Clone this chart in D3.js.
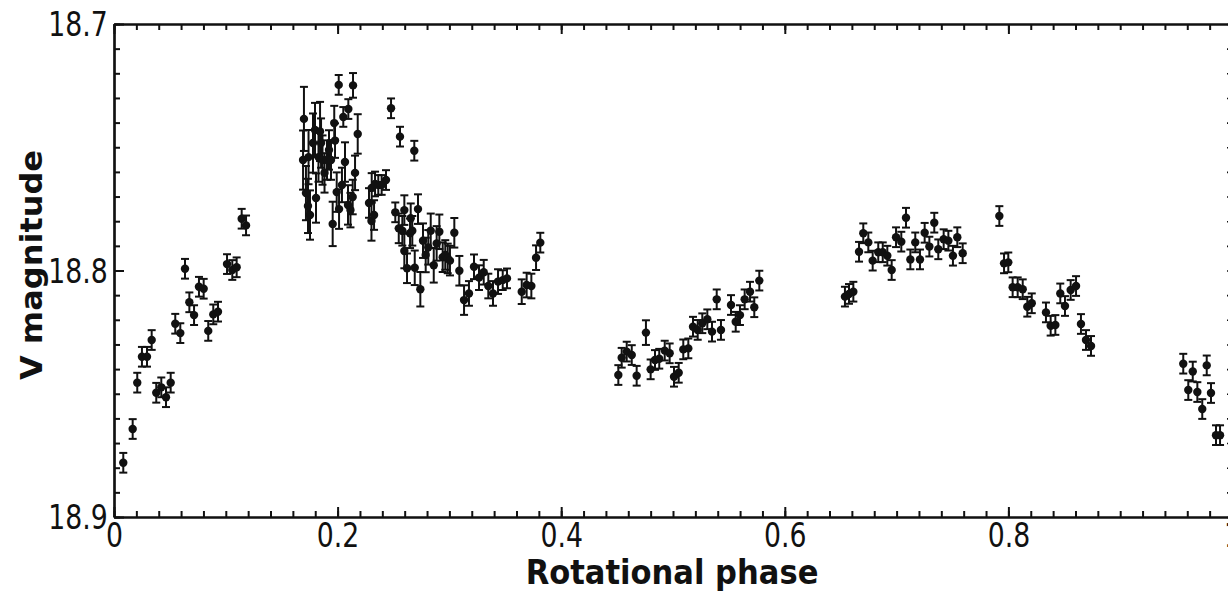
<!DOCTYPE html>
<html>
<head>
<meta charset="utf-8">
<script src="https://cdn.jsdelivr.net/npm/d3@7"></script>
<style>
  html, body { margin: 0; padding: 0; background: #fff; }
  svg { display: block; }
</style>
</head>
<body>
<svg id="chart" width="1228" height="591"></svg>
<script>
// ---- data ----
const phase = [
  0.0083,0.0167,0.0208,0.0250,0.0295,0.0337,0.0378,0.0423,0.0465,0.0507,0.0548,0.0593,0.0635,0.0674,0.0716,0.0760,0.0802,0.0843,0.0888,0.0930,0.1011,0.1058,0.1097,0.1142,0.1181,
  0.1699,0.1691,0.1717,0.1735,0.1753,0.1740,0.1780,0.1798,0.1807,0.1829,0.1843,0.1852,0.1865,0.1883,0.1905,0.1923,0.1941,0.1956,0.1970,0.1977,0.1992,0.2010,0.2013,0.2039,0.2051,0.2066,0.2096,0.2093,0.2115,0.2138,0.2135,0.2156,0.2180,
  0.2281,0.2303,0.2326,0.2305,0.2335,0.2364,0.2394,0.2433,0.2478,0.2558,0.2686,
  0.2516,0.2547,0.2579,0.2597,0.2597,0.2621,0.2648,0.2654,0.2668,0.2690,0.2719,0.2740,0.2764,0.2788,0.2811,0.2833,0.2860,0.2886,0.2910,0.2940,0.2963,0.2985,0.3005,0.3044,0.3089,0.3131,0.3175,0.3220,0.3265,0.3307,0.3348,0.3390,0.3435,0.3477,0.3515,0.3647,0.3691,0.3733,0.3775,0.3813,
  0.4511,0.4541,0.4586,0.4631,0.4675,0.4758,0.4800,0.4839,0.4877,0.4926,0.4970,0.5009,0.5051,0.5092,0.5137,0.5179,0.5221,0.5262,0.5307,0.5349,0.5391,0.5429,0.5519,0.5561,0.5599,0.5641,0.5689,0.5727,0.5772,
  0.6538,0.6574,0.6613,0.6664,0.6702,0.6747,0.6786,0.6836,0.6876,0.6917,0.6956,0.6995,0.7042,0.7084,0.7123,0.7167,0.7209,0.7251,0.7293,0.7337,0.7373,0.7421,0.7463,0.7504,0.7543,0.7591,
  0.7919,0.7961,0.7999,0.8038,0.8083,0.8128,0.8169,0.8209,0.8336,0.8378,0.8420,0.8464,0.8506,0.8557,0.8605,0.8649,0.8694,0.8739,
  0.9564,0.9609,0.9649,0.9690,0.9734,0.9774,0.9812,0.9857,0.9893
];
const vmag = [
  18.8780,18.8643,18.8455,18.8350,18.8350,18.8282,18.8496,18.8474,18.8514,18.8455,18.8216,18.8254,18.7993,18.8129,18.8181,18.8066,18.8074,18.8245,18.8178,18.8167,18.7974,18.7998,18.7987,18.7790,18.7817,
  18.7385,18.7552,18.7686,18.7738,18.7775,18.7540,18.7483,18.7430,18.7706,18.7540,18.7436,18.7483,18.7552,18.7604,18.7552,18.7511,18.7552,18.7811,18.7402,18.7473,18.7682,18.7247,18.7751,18.7653,18.7377,18.7560,18.7345,18.7734,18.7755,18.7249,18.7702,18.7604,18.7446,
  18.7726,18.7799,18.7775,18.7665,18.7649,18.7653,18.7653,18.7633,18.7342,18.7457,18.7514,
  18.7764,18.7829,18.7839,18.7755,18.7921,18.7991,18.7849,18.7788,18.7839,18.7989,18.7751,18.8076,18.7879,18.7937,18.7906,18.7839,18.7979,18.7890,18.7843,18.7946,18.7937,18.7951,18.7960,18.7847,18.8001,18.8120,18.8093,18.7985,18.8029,18.8007,18.8063,18.8093,18.8045,18.8039,18.8032,18.8086,18.8059,18.8063,18.7948,18.7887,
  18.8424,18.8354,18.8329,18.8343,18.8427,18.8252,18.8401,18.8363,18.8358,18.8325,18.8336,18.8431,18.8415,18.8320,18.8316,18.8228,18.8241,18.8214,18.8198,18.8248,18.8117,18.8241,18.8140,18.8208,18.8181,18.8117,18.8086,18.8149,18.8041,
  18.8106,18.8095,18.8086,18.7924,18.7849,18.7886,18.7960,18.7926,18.7926,18.7940,18.7998,18.7865,18.7883,18.7786,18.7955,18.7886,18.7955,18.7847,18.7903,18.7806,18.7914,18.7873,18.7879,18.7940,18.7865,18.7930,
  18.7779,18.7971,18.7967,18.8068,18.8068,18.8076,18.8147,18.8133,18.8170,18.8224,18.8221,18.8093,18.8144,18.8079,18.8063,18.8217,18.8282,18.8306,
  18.8378,18.8485,18.8410,18.8493,18.8562,18.8385,18.8497,18.8668,18.8668
];
const vmagErr = [
  0.004,0.004,0.004,0.004,0.004,0.004,0.004,0.004,0.004,0.004,0.004,0.004,0.004,0.004,0.004,0.004,0.004,0.004,0.004,0.004,0.004,0.004,0.004,0.004,0.004,
  0.013,0.012,0.011,0.011,0.010,0.011,0.012,0.011,0.010,0.010,0.012,0.010,0.010,0.008,0.008,0.008,0.008,0.009,0.007,0.007,0.008,0.004,0.008,0.007,0.004,0.008,0.004,0.008,0.007,0.005,0.007,0.007,0.008,
  0.006,0.008,0.006,0.006,0.005,0.004,0.004,0.004,0.004,0.004,0.004,
  0.004,0.006,0.006,0.006,0.007,0.006,0.006,0.006,0.006,0.007,0.006,0.007,0.007,0.007,0.007,0.007,0.007,0.007,0.007,0.006,0.006,0.006,0.006,0.006,0.006,0.006,0.005,0.005,0.005,0.005,0.005,0.005,0.005,0.004,0.004,0.005,0.005,0.005,0.005,0.004,
  0.004,0.004,0.004,0.004,0.004,0.005,0.004,0.004,0.004,0.004,0.004,0.004,0.004,0.004,0.004,0.004,0.004,0.004,0.004,0.004,0.004,0.004,0.004,0.004,0.004,0.004,0.004,0.004,0.004,
  0.004,0.004,0.004,0.004,0.004,0.004,0.004,0.004,0.004,0.004,0.004,0.004,0.004,0.004,0.004,0.004,0.004,0.004,0.004,0.004,0.004,0.004,0.004,0.004,0.004,0.004,
  0.004,0.004,0.004,0.004,0.004,0.004,0.004,0.004,0.004,0.004,0.004,0.004,0.004,0.004,0.004,0.004,0.004,0.004,
  0.004,0.004,0.004,0.004,0.004,0.004,0.004,0.004,0.004
];
const xMajorTicks = [0, 0.2, 0.4, 0.6, 0.8, 1];
const xTickLabels = ["0", "0.2", "0.4", "0.6", "0.8", "1"];
const yMajorTicks = [18.7, 18.8, 18.9];
const yTickLabels = ["18.7", "18.8", "18.9"];
const xLabel = "Rotational phase";
const yLabel = "V magnitude";

// ---- layout ----
(function () {
const svg = d3.select("#chart");
const pLeft = 114, pRight = 1232, pTop = 24, pBottom = 517;
const x = d3.scaleLinear().domain([0, 1]).range([pLeft, pRight]);
const y = d3.scaleLinear().domain([18.7, 18.9]).range([pTop, pBottom]);
const ink = "#111";

const xMinor = d3.range(0, 51).map(i => i / 50);
const yMinor = d3.range(0, 21).map(i => +(18.7 + i * 0.01).toFixed(2));

function styleAxis(g) {
  g.select(".domain").attr("stroke", ink).attr("stroke-width", 2.2);
  g.selectAll(".tick line").attr("stroke", ink).attr("stroke-width", 2);
}

// bottom axis
const gxMinor = svg.append("g").attr("transform", `translate(0,${pBottom})`)
  .call(d3.axisBottom(x).tickValues(xMinor).tickSizeInner(-6).tickSizeOuter(0).tickFormat(""));
styleAxis(gxMinor);
const gx = svg.append("g").attr("transform", `translate(0,${pBottom})`)
  .call(d3.axisBottom(x).tickValues(xMajorTicks).tickSizeInner(-10).tickSizeOuter(0)
    .tickPadding(6).tickFormat((d, i) => xTickLabels[i]));
styleAxis(gx);
gx.selectAll(".tick text")
  .attr("fill", ink).attr("font-family", "'DejaVu Sans Condensed', 'DejaVu Sans', sans-serif")
  .attr("font-size", 33).attr("dy", "0.74em")
  .attr("transform", "scale(0.9,1)");

// top axis
const gtMinor = svg.append("g").attr("transform", `translate(0,${pTop})`)
  .call(d3.axisTop(x).tickValues(xMinor).tickSizeInner(-6).tickSizeOuter(0).tickFormat(""));
styleAxis(gtMinor);
const gt = svg.append("g").attr("transform", `translate(0,${pTop})`)
  .call(d3.axisTop(x).tickValues(xMajorTicks).tickSizeInner(-10).tickSizeOuter(0).tickFormat(""));
styleAxis(gt);

// left axis
const gyMinor = svg.append("g").attr("transform", `translate(${pLeft},0)`)
  .call(d3.axisLeft(y).tickValues(yMinor).tickSizeInner(-6).tickSizeOuter(0).tickFormat(""));
styleAxis(gyMinor);
const gy = svg.append("g").attr("transform", `translate(${pLeft},0)`)
  .call(d3.axisLeft(y).tickValues(yMajorTicks).tickSizeInner(-10).tickSizeOuter(0)
    .tickPadding(7).tickFormat((d, i) => yTickLabels[i]));
styleAxis(gy);
gy.selectAll(".tick text")
  .attr("fill", ink).attr("font-family", "'DejaVu Sans Condensed', 'DejaVu Sans', sans-serif")
  .attr("font-size", 33).attr("dy", "0.36em")
  .attr("transform", "scale(0.9,1)");

// right axis (mostly outside the view)
const grMinor = svg.append("g").attr("transform", `translate(${pRight},0)`)
  .call(d3.axisRight(y).tickValues(yMinor).tickSizeInner(-5).tickSizeOuter(0).tickFormat(""));
styleAxis(grMinor);
grMinor.selectAll(".tick line").attr("stroke-width", 1.6);

// data
const pts = phase.map((p, i) => ({ p, m: vmag[i], e: vmagErr[i] }));
const gData = svg.append("g");
const cap = 4;
const eb = gData.selectAll("g.eb").data(pts).join("g").attr("class", "eb");
eb.append("line")
  .attr("x1", d => x(d.p)).attr("x2", d => x(d.p))
  .attr("y1", d => y(d.m - d.e)).attr("y2", d => y(d.m + d.e))
  .attr("stroke", ink).attr("stroke-width", 2);
eb.append("line")
  .attr("x1", d => x(d.p) - cap).attr("x2", d => x(d.p) + cap)
  .attr("y1", d => y(d.m - d.e)).attr("y2", d => y(d.m - d.e))
  .attr("stroke", ink).attr("stroke-width", 2);
eb.append("line")
  .attr("x1", d => x(d.p) - cap).attr("x2", d => x(d.p) + cap)
  .attr("y1", d => y(d.m + d.e)).attr("y2", d => y(d.m + d.e))
  .attr("stroke", ink).attr("stroke-width", 2);
gData.selectAll("circle").data(pts).join("circle")
  .attr("cx", d => x(d.p)).attr("cy", d => y(d.m)).attr("r", 4.2)
  .attr("fill", ink);

// axis titles
svg.append("text")
  .attr("transform", `translate(672,584) scale(0.9,1)`)
  .attr("text-anchor", "middle")
  .attr("font-family", "'DejaVu Sans', sans-serif").attr("font-weight", "bold")
  .attr("font-size", 34).attr("fill", ink)
  .text(xLabel);
svg.append("text")
  .attr("transform", `translate(42,265) rotate(-90) scale(1,0.95)`)
  .attr("text-anchor", "middle")
  .attr("font-family", "'DejaVu Sans', sans-serif").attr("font-weight", "bold")
  .attr("font-size", 32).attr("fill", ink)
  .text(yLabel);
})();
</script>
</body>
</html>
